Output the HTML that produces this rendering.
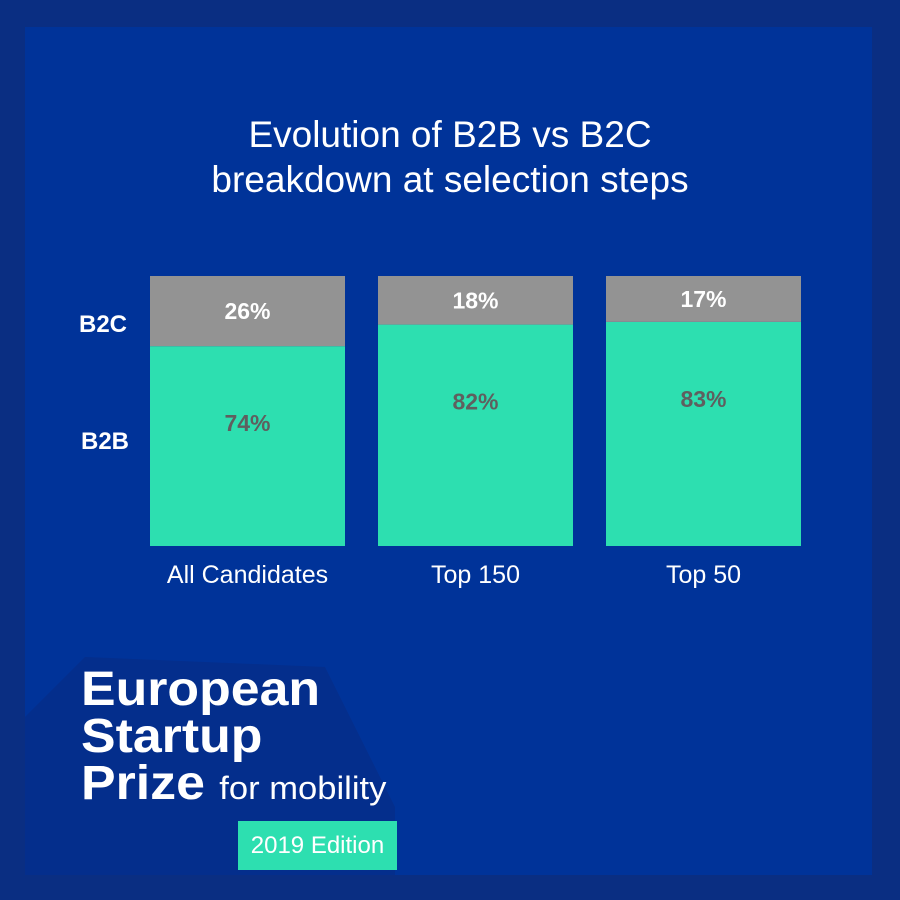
<!DOCTYPE html>
<html><head><meta charset="utf-8"><style>
html,body{margin:0;padding:0}
body{width:900px;height:900px;background:#0a2e82;position:relative;overflow:hidden;font-family:"Liberation Sans",sans-serif}
#panel{position:absolute;left:25px;top:27px;width:847px;height:848px;background:#003399;overflow:hidden}
.t{position:absolute;color:#fff}
</style></head><body>
<div id="panel">
<svg width="847" height="848" style="position:absolute;left:0;top:0">
<polygon points="0,690 60,630 300,640 370,780 370,848 0,848" fill="#062c84" opacity="0.6"/>
</svg>
</div>
<div class="t" style="left:0;width:900px;top:112px;text-align:center;font-size:37px;line-height:45px">Evolution of B2B vs B2C<br>breakdown at selection steps</div>
<div class="t" style="left:79px;top:311px;font-size:24px;font-weight:bold">B2C</div>
<div class="t" style="left:81px;top:428px;font-size:24px;font-weight:bold">B2B</div>
<svg id="chart" width="900" height="900" style="position:absolute;left:0;top:0"></svg>
<div class="t" style="left:81px;top:666px;font-size:48px;font-weight:bold;line-height:47px;transform:scaleX(1.08);transform-origin:left top;white-space:nowrap">European<br>Startup<br>Prize <span style="font-size:32px;font-weight:normal">for mobility</span></div>
<div style="position:absolute;left:238px;top:821px;width:159px;height:49px;background:#2ddfb0;color:#fff;font-size:24px;line-height:49px;text-align:center">2019 Edition</div>
<script>
const categories=["All Candidates","Top 150","Top 50"];
const b2b=[74,82,83];
const b2c=[26,18,17];
const svg=document.getElementById('chart');
const NS='http://www.w3.org/2000/svg';
const x0=150,bw=195,gap=33,yTop=276,yBot=546;
const xPos=i=>x0+i*(bw+gap);
const yScale=v=>yBot-(v/100)*(yBot-yTop);
function mk(tag,attrs){const e=document.createElementNS(NS,tag);for(const k in attrs)e.setAttribute(k,attrs[k]);svg.appendChild(e);return e;}
categories.forEach((c,i)=>{
  const split=yScale(b2b[i]);
  const g=mk('rect',{x:xPos(i),y:split,width:bw,height:yBot-split,fill:'#2ddfb0'});
  
  
  const top=yScale(b2b[i]+b2c[i]);
  const r=mk('rect',{x:xPos(i),y:top,width:bw,height:split-top,fill:'#939393'});
  
  
  const t1=mk('text',{x:xPos(i)+bw/2,y:(top+split)/2+8,'text-anchor':'middle',fill:'#fff','font-size':23,'font-weight':'bold','font-family':'Liberation Sans, sans-serif'});
  t1.textContent=b2c[i]+'%';
  
  
  const t2=mk('text',{x:xPos(i)+bw/2,y:split+85,'text-anchor':'middle',fill:'#5f5f5f','font-size':23,'font-weight':'bold','font-family':'Liberation Sans, sans-serif'});
  t2.textContent=b2b[i]+'%';
  
  
  const t3=mk('text',{x:xPos(i)+bw/2,y:583,'text-anchor':'middle',fill:'#fff','font-size':25,'font-family':'Liberation Sans, sans-serif'});
  t3.textContent=c;
  
  
});
</script>
</body></html>
